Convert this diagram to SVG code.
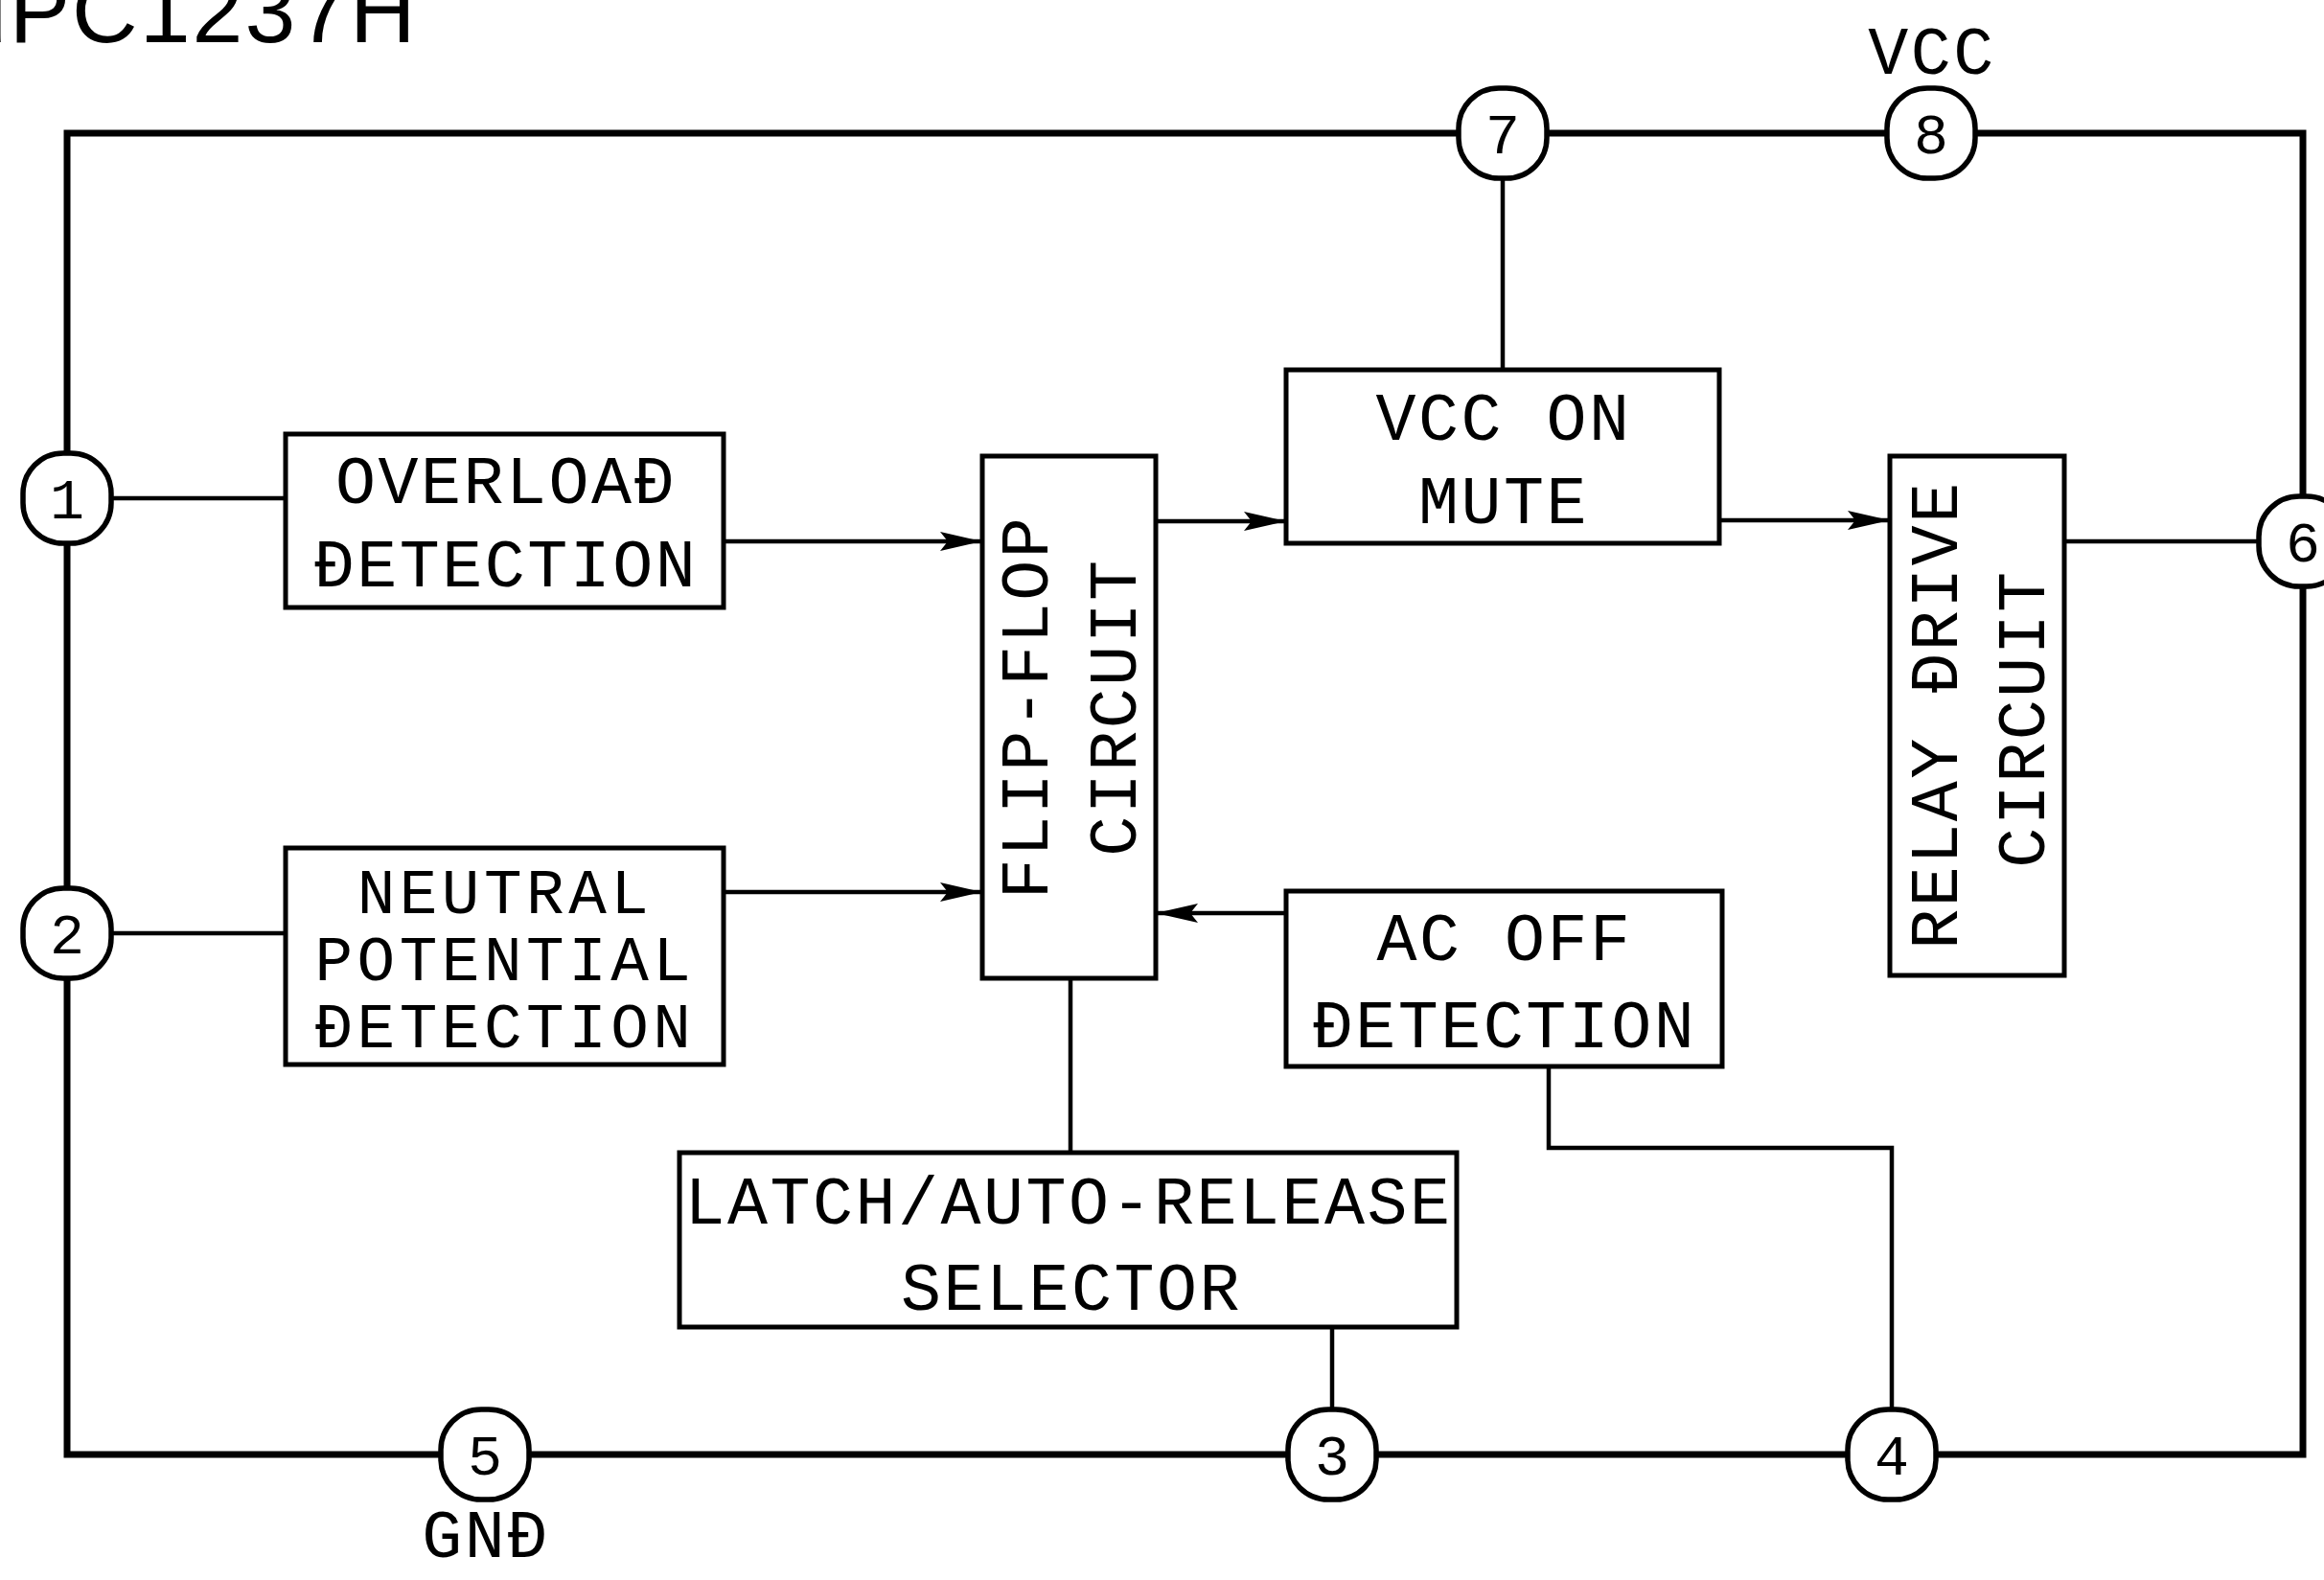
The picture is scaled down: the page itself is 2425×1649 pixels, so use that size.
<svg xmlns="http://www.w3.org/2000/svg" width="2425" height="1649" viewBox="0 0 2425 1649">
  <style>
    .frame { fill: none; stroke: #000; stroke-width: 7; stroke-linejoin: miter; }
    .box { fill: #fff; stroke: #000; stroke-width: 5; }
    .conn { fill: none; stroke: #000; stroke-width: 4.5; }
    .pin { fill: #fff; stroke: #000; stroke-width: 5.5; }
    .lbl { font-family: "Liberation Mono", "DejaVu Sans Mono", monospace; font-size: 70px; letter-spacing: 2.5px; fill: #000; text-anchor: middle; }
    .lbl3 { font-family: "Liberation Mono", "DejaVu Sans Mono", monospace; font-size: 66px; letter-spacing: 4.5px; fill: #000; text-anchor: middle; }
    .num { font-family: "Liberation Mono", "DejaVu Sans Mono", monospace; font-size: 60px; fill: #000; text-anchor: middle; }
    .title { font-family: "Liberation Sans", Arial, sans-serif; font-size: 95px; letter-spacing: 2px; fill: #000; }
  </style>
  <defs>
    <marker id="arr" viewBox="0 0 44 22" refX="44" refY="11" markerWidth="44" markerHeight="22" markerUnits="userSpaceOnUse" orient="auto">
      <path d="M0,1 L44,11 L0,21 L8,11 Z" fill="#000"/>
    </marker>
  </defs>
  <rect width="2425" height="1649" fill="#fff"/>

  <text class="title" x="-47" y="44">μPC1237H</text>

  <g id="connectors">
    <rect class="frame" x="70" y="139" width="2333" height="1379"/>
    <line class="conn" x1="1568" y1="187" x2="1568" y2="386"/>
    <line class="conn" x1="116" y1="520" x2="298" y2="520"/>
    <line class="conn" x1="116" y1="974" x2="298" y2="974"/>
    <line class="conn" x1="755" y1="565" x2="1025" y2="565" marker-end="url(#arr)"/>
    <line class="conn" x1="755" y1="931" x2="1025" y2="931" marker-end="url(#arr)"/>
    <line class="conn" x1="1206" y1="544" x2="1342" y2="544" marker-end="url(#arr)"/>
    <line class="conn" x1="1794" y1="543" x2="1972" y2="543" marker-end="url(#arr)"/>
    <line class="conn" x1="1342" y1="953" x2="1206" y2="953" marker-end="url(#arr)"/>
    <line class="conn" x1="2154" y1="565" x2="2357" y2="565"/>
    <line class="conn" x1="1117" y1="1021" x2="1117" y2="1203"/>
    <line class="conn" x1="1390" y1="1385" x2="1390" y2="1471"/>
    <polyline class="conn" points="1616,1113 1616,1198 1974,1198 1974,1471"/>
  </g>

  <g id="overload">
    <rect class="box" x="298" y="453" width="457" height="181"/>
    <text class="lbl" x="528" y="525">OVERLOAĐ</text>
    <text class="lbl" x="528" y="612">ĐETECTION</text>
  </g>
  <g id="neutral">
    <rect class="box" x="298" y="885" width="457" height="226"/>
    <text class="lbl3" x="527" y="953">NEUTRAL</text>
    <text class="lbl3" x="527" y="1023">POTENTIAL</text>
    <text class="lbl3" x="527" y="1093">ĐETECTION</text>
  </g>
  <g id="flipflop">
    <rect class="box" x="1025" y="476" width="181" height="545"/>
    <text class="lbl" transform="translate(1093,738) rotate(-90)">FLIP-FLOP</text>
    <text class="lbl" transform="translate(1185,738) rotate(-90)">CIRCUIT</text>
  </g>
  <g id="vccmute">
    <rect class="box" x="1342" y="386" width="452" height="181"/>
    <text class="lbl" x="1569" y="459">VCC ON</text>
    <text class="lbl" x="1569" y="546">MUTE</text>
  </g>
  <g id="relay">
    <rect class="box" x="1972" y="476" width="182" height="542"/>
    <text class="lbl" transform="translate(2042,746) rotate(-90)">RELAY ĐRIVE</text>
    <text class="lbl" transform="translate(2133,750) rotate(-90)">CIRCUIT</text>
  </g>
  <g id="acoff">
    <rect class="box" x="1342" y="930" width="455" height="183"/>
    <text class="lbl" x="1570" y="1002">AC OFF</text>
    <text class="lbl" x="1570" y="1093">ĐETECTION</text>
  </g>
  <g id="latch">
    <rect class="box" x="709" y="1203" width="811" height="182"/>
    <text class="lbl" x="1115" y="1277">LATCH/AUTO-RELEASE</text>
    <text class="lbl" x="1118" y="1367">SELECTOR</text>
  </g>

  <g id="pin1"><rect class="pin" x="24" y="473" width="92" height="94" rx="42"/><text class="num" x="70" y="541">1</text></g>
  <g id="pin2"><rect class="pin" x="24" y="927" width="92" height="94" rx="42"/><text class="num" x="70" y="995">2</text></g>
  <g id="pin3"><rect class="pin" x="1344" y="1471" width="92" height="94" rx="42"/><text class="num" x="1390" y="1539">3</text></g>
  <g id="pin4"><rect class="pin" x="1928" y="1471" width="92" height="94" rx="42"/><text class="num" x="1974" y="1539">4</text></g>
  <g id="pin5"><rect class="pin" x="460" y="1471" width="92" height="94" rx="42"/><text class="num" x="506" y="1539">5</text><text class="lbl" x="507" y="1625">GNĐ</text></g>
  <g id="pin6"><rect class="pin" x="2357" y="518" width="92" height="94" rx="42"/><text class="num" x="2403" y="586">6</text></g>
  <g id="pin7"><rect class="pin" x="1522" y="92" width="92" height="94" rx="42"/><text class="num" x="1568" y="160">7</text></g>
  <g id="pin8"><rect class="pin" x="1969" y="92" width="92" height="94" rx="42"/><text class="num" x="2015" y="160">8</text><text class="lbl" x="2016" y="77">VCC</text></g>
</svg>
